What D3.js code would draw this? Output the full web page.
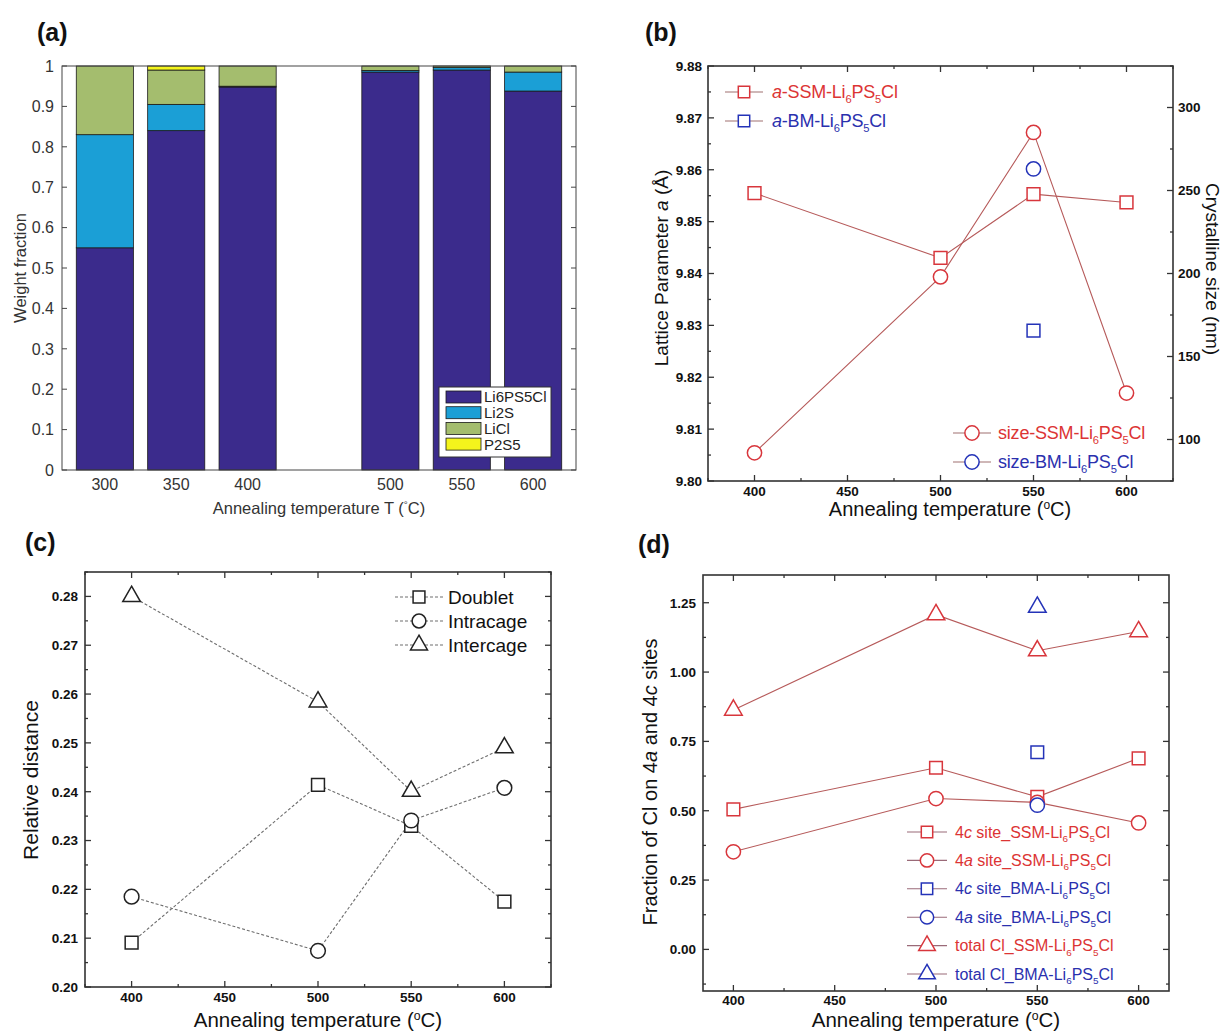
<!DOCTYPE html>
<html>
<head>
<meta charset="utf-8" />
<title>Li6PS5Cl annealing</title>
<script src="https://d3js.org/d3.v7.min.js"></script>
<style>
  body { margin: 0; background: #fff; }
  text { font-family: "Liberation Sans", Arial, sans-serif; }
</style>
</head>
<body>
<svg id="fig" width="1228" height="1032"></svg>
<script>
// ---------- (a) weight fractions ----------
var tempsA = [300, 350, 400, 500, 550, 600];
var phaseNames = ["Li6PS5Cl", "Li2S", "LiCl", "P2S5"];
var fracLi6PS5Cl = [0.55, 0.84, 0.948, 0.985, 0.99, 0.938];
var fracLi2S = [0.28, 0.065, 0.002, 0.004, 0.006, 0.047];
var fracLiCl = [0.17, 0.085, 0.05, 0.011, 0.004, 0.015];
var fracP2S5 = [0, 0.01, 0, 0, 0, 0];
var phaseColors = ["#3b2b8c", "#1b9fd6", "#a4bd6e", "#f4f41c"];

// ---------- (b) lattice parameter & crystallite size ----------
var tempsB = [400, 500, 550, 600];
var latticeSSM = [9.8555, 9.8430, 9.8553, 9.8537];
var tempsBM = [550];
var latticeBM = [9.8290];
var sizeSSM = [92, 198, 285, 128];
var sizeBM = [263];

// ---------- (c) relative distances ----------
var tempsC = [400, 500, 550, 600];
var doublet = [0.2091, 0.2414, 0.2330, 0.2175];
var intracage = [0.2185, 0.2074, 0.2341, 0.2408];
var intercage = [0.2800, 0.2584, 0.2401, 0.2490];

// ---------- (d) Cl site fractions ----------
var tempsD = [400, 500, 550, 600];
var site4cSSM = [0.505, 0.655, 0.550, 0.689];
var site4aSSM = [0.352, 0.544, 0.530, 0.456];
var totalSSM = [0.863, 1.207, 1.077, 1.146];
var tempsBMA = [550];
var site4cBMA = [0.711];
var site4aBMA = [0.520];
var totalBMA = [1.234];

var RED = "#d8363c", REDLINE = "#b65a5a", REDTXT = "#dc3434";
var BLUE = "#2433b8", BLUETXT = "#2a30ae";

var svg = d3.select("#fig");

function range(a, b, s) {
  var out = [];
  for (var v = a; v <= b + s / 1000; v += s) out.push(+v.toFixed(6));
  return out;
}

function richText(sel, parts, size) {
  parts.forEach(function (p) {
    var t = sel.append("tspan").text(p[0]);
    if (p[1] === "i") t.attr("font-style", "italic");
    if (p[1] === "sub") t.attr("font-size", size * 0.62).attr("dy", size * 0.28);
    if (p[1] === "sup") t.attr("font-size", size * 0.6).attr("dy", -size * 0.36);
    if (p[1] === "back") t.attr("dy", -size * 0.28);
    if (p[1] === "down") t.attr("dy", size * 0.36);
  });
  return sel;
}

function subParts(prefix) {
  return prefix.concat([["Li", null], ["6", "sub"], ["PS", "back"], ["5", "sub"], ["Cl", "back"]]);
}

// frame with inward ticks on four sides
function frame(g, x, y, o) {
  var x0 = x.range()[0], x1 = x.range()[1], y0 = y.range()[0], y1 = y.range()[1];
  var st = o.stroke || "#333";
  function tk(ax, ay, bx, by) {
    g.append("line").attr("x1", ax).attr("y1", ay).attr("x2", bx).attr("y2", by)
      .attr("stroke", st).attr("stroke-width", o.tw || 1.3);
  }
  (o.xMajor || []).forEach(function (v) { tk(x(v), y0, x(v), y0 - 6); tk(x(v), y1, x(v), y1 + 6); });
  (o.xMinor || []).forEach(function (v) { tk(x(v), y0, x(v), y0 - 3); tk(x(v), y1, x(v), y1 + 3); });
  o.yMajor.forEach(function (v) { tk(x0, y(v), x0 + 6, y(v)); if (!o.y2) tk(x1, y(v), x1 - 6, y(v)); });
  (o.yMinor || []).forEach(function (v) { tk(x0, y(v), x0 + 3, y(v)); if (!o.y2) tk(x1, y(v), x1 - 3, y(v)); });
  if (o.y2) {
    o.y2Major.forEach(function (v) { tk(x1, o.y2(v), x1 - 6, o.y2(v)); });
    o.y2Minor.forEach(function (v) { tk(x1, o.y2(v), x1 - 3, o.y2(v)); });
  }
  g.append("rect").attr("x", x0).attr("y", y1).attr("width", x1 - x0).attr("height", y0 - y1)
    .attr("fill", "none").attr("stroke", st).attr("stroke-width", o.sw || 1.6);
}

function tickLabels(g, x, y, o) {
  var x0 = x.range()[0], y0 = y.range()[0];
  g.selectAll(null).data(o.xLab).enter().append("text")
    .attr("x", function (d) { return x(d); }).attr("y", y0 + o.xOff)
    .attr("text-anchor", "middle").attr("font-size", o.fs).attr("font-weight", o.fw || "bold")
    .attr("fill", o.fill || "#111").text(o.xFmt || String);
  g.selectAll(null).data(o.yLab).enter().append("text")
    .attr("x", x0 - o.yOff).attr("y", function (d) { return y(d); }).attr("dy", "0.36em")
    .attr("text-anchor", "end").attr("font-size", o.fs).attr("font-weight", o.fw || "bold")
    .attr("fill", o.fill || "#111").text(o.yFmt);
}

function markers(g, x, y, xs, ys, shape, color, size) {
  g.selectAll(null).data(xs).enter().append("path")
    .attr("transform", function (d, i) { return "translate(" + x(d) + "," + y(ys[i]) + ")"; })
    .attr("d", d3.symbol().type(shape).size(size))
    .attr("fill", "white").attr("stroke", color).attr("stroke-width", 1.5);
}

function series(g, x, y, xs, ys, color, dash) {
  var line = d3.line().x(function (d) { return x(d[0]); }).y(function (d) { return y(d[1]); });
  g.append("path").datum(xs.map(function (t, i) { return [t, ys[i]]; }))
    .attr("d", line).attr("fill", "none").attr("stroke", color).attr("stroke-width", 1.1)
    .attr("stroke-dasharray", dash || null);
}

function legendRow(g, cx, cy, half, shape, color, lineColor, size, dash) {
  g.append("line").attr("x1", cx - half).attr("x2", cx + half).attr("y1", cy).attr("y2", cy)
    .attr("stroke", lineColor).attr("stroke-width", 1.1).attr("stroke-dasharray", dash || null);
  g.append("path").attr("transform", "translate(" + cx + "," + cy + ")")
    .attr("d", d3.symbol().type(shape).size(size))
    .attr("fill", "white").attr("stroke", color).attr("stroke-width", 1.5);
}

function degLabel(g, x, y, size, pre) {
  var t = g.append("text").attr("x", x).attr("y", y).attr("text-anchor", "middle")
    .attr("font-size", size).attr("fill", "#111");
  richText(t, [[pre + "(", null], ["o", "sup"], ["C)", "down"]], size);
  return t;
}

function panelTitle(x, y, s) {
  svg.append("text").attr("x", x).attr("y", y).attr("font-size", 25).attr("font-weight", "bold")
    .attr("fill", "#111").text(s);
}

// =============== PANEL (a) ===============
(function () {
  var g = svg.append("g");
  var x = d3.scaleLinear().domain([270, 630]).range([62, 576]);
  var y = d3.scaleLinear().domain([0, 1]).range([470, 66]);
  var rows = tempsA.map(function (t, i) {
    return { T: t, Li6PS5Cl: fracLi6PS5Cl[i], Li2S: fracLi2S[i], LiCl: fracLiCl[i], P2S5: fracP2S5[i] };
  });
  var stacked = d3.stack().keys(phaseNames)(rows);
  var bw = x(320) - x(280);
  g.selectAll("g.layer").data(stacked).enter().append("g")
    .attr("fill", function (d, i) { return phaseColors[i]; })
    .selectAll("rect").data(function (d) { return d; }).enter().append("rect")
    .attr("x", function (d) { return x(d.data.T) - bw / 2; }).attr("width", bw)
    .attr("y", function (d) { return y(d[1]); })
    .attr("height", function (d) { return Math.max(0, y(d[0]) - y(d[1])); })
    .attr("stroke", "#1a1a1a").attr("stroke-width", 0.8);

  var yt = range(0, 1, 0.1);
  yt.forEach(function (v) {
    g.append("line").attr("x1", 62).attr("x2", 67).attr("y1", y(v)).attr("y2", y(v)).attr("stroke", "#444");
    g.append("line").attr("x1", 576).attr("x2", 571).attr("y1", y(v)).attr("y2", y(v)).attr("stroke", "#444");
  });
  g.append("rect").attr("x", 62).attr("y", 66).attr("width", 514).attr("height", 404)
    .attr("fill", "none").attr("stroke", "#444").attr("stroke-width", 1);
  tickLabels(g, x, y, {
    xLab: tempsA, yLab: yt, xOff: 20, yOff: 8, fs: 16, fw: "normal", fill: "#333",
    yFmt: function (d) { return d === 0 ? "0" : d === 1 ? "1" : d3.format(".1f")(d); }
  });
  g.append("text").attr("transform", "translate(26,268) rotate(-90)").attr("text-anchor", "middle")
    .attr("font-size", 16.5).attr("fill", "#333").text("Weight fraction");
  var xl = g.append("text").attr("x", 319).attr("y", 514).attr("text-anchor", "middle")
    .attr("font-size", 16.5).attr("fill", "#333");
  richText(xl, [["Annealing temperature T (", null], ["°", "sup"], ["C)", "down"]], 16.5);

  // legend
  var lg = g.append("g");
  lg.append("rect").attr("x", 439).attr("y", 387).attr("width", 112).attr("height", 70)
    .attr("fill", "white").attr("stroke", "#333").attr("stroke-width", 1);
  phaseNames.forEach(function (n, i) {
    var cy = 397 + i * 15.7;
    lg.append("rect").attr("x", 446).attr("y", cy - 6).attr("width", 35).attr("height", 12)
      .attr("fill", phaseColors[i]).attr("stroke", "#1a1a1a").attr("stroke-width", 0.8);
    lg.append("text").attr("x", 484).attr("y", cy).attr("dy", "0.36em").attr("font-size", 15)
      .attr("fill", "#222").text(n);
  });
})();
panelTitle(37, 41, "(a)");

// =============== PANEL (b) ===============
(function () {
  var g = svg.append("g");
  var x = d3.scaleLinear().domain([375, 625]).range([708, 1173]);
  var y = d3.scaleLinear().domain([9.80, 9.88]).range([481, 66]);
  var y2 = d3.scaleLinear().domain([75, 325]).range([481, 66]);

  series(g, x, y, tempsB, latticeSSM, REDLINE);
  series(g, x, y2, tempsB, sizeSSM, REDLINE);
  markers(g, x, y, tempsB, latticeSSM, d3.symbolSquare, RED, 165);
  markers(g, x, y2, tempsB, sizeSSM, d3.symbolCircle, RED, 160);
  markers(g, x, y, tempsBM, latticeBM, d3.symbolSquare, BLUE, 165);
  markers(g, x, y2, tempsBM, sizeBM, d3.symbolCircle, BLUE, 160);

  frame(g, x, y, {
    xMajor: range(400, 600, 50), xMinor: range(375, 625, 50),
    yMajor: range(9.80, 9.88, 0.01), yMinor: range(9.805, 9.875, 0.01),
    y2: y2, y2Major: range(100, 300, 50), y2Minor: range(75, 325, 50)
  });
  tickLabels(g, x, y, {
    xLab: range(400, 600, 50), yLab: range(9.80, 9.88, 0.01), xOff: 15, yOff: 6, fs: 13.5,
    yFmt: d3.format(".2f")
  });
  g.selectAll(null).data(range(100, 300, 50)).enter().append("text")
    .attr("x", 1178).attr("y", function (d) { return y2(d); }).attr("dy", "0.36em")
    .attr("font-size", 13.5).attr("font-weight", "bold").attr("fill", "#111").text(String);

  var yl = g.append("text").attr("transform", "translate(668,268) rotate(-90)")
    .attr("text-anchor", "middle").attr("font-size", 19).attr("fill", "#111");
  richText(yl, [["Lattice Parameter ", null], ["a", "i"], [" (Å)", null]], 19);
  g.append("text").attr("transform", "translate(1206,269) rotate(90)")
    .attr("text-anchor", "middle").attr("font-size", 19).attr("fill", "#111").text("Crystalline size (nm)");
  degLabel(g, 950, 516, 20, "Annealing temperature ");

  // legends
  var legTop = [
    { shape: d3.symbolSquare, color: RED, txt: REDTXT, parts: subParts([["a", "i"], ["-SSM-", null]]) },
    { shape: d3.symbolSquare, color: BLUE, txt: BLUETXT, parts: subParts([["a", "i"], ["-BM-", null]]) }
  ];
  legTop.forEach(function (d, i) {
    var cy = 92 + i * 29;
    legendRow(g, 744, cy, 19, d.shape, d.color, "#a07070", 130);
    richText(g.append("text").attr("x", 772).attr("y", cy + 6).attr("font-size", 18).attr("fill", d.txt)
      .attr("letter-spacing", -0.2), d.parts, 18);
  });
  var legBot = [
    { shape: d3.symbolCircle, color: RED, txt: REDTXT, parts: subParts([["size-SSM-", null]]) },
    { shape: d3.symbolCircle, color: BLUE, txt: BLUETXT, parts: subParts([["size-BM-", null]]) }
  ];
  legBot.forEach(function (d, i) {
    var cy = 433 + i * 29;
    legendRow(g, 972, cy, 19, d.shape, d.color, "#a07070", 160);
    richText(g.append("text").attr("x", 998).attr("y", cy + 6).attr("font-size", 18).attr("fill", d.txt)
      .attr("letter-spacing", -0.2), d.parts, 18);
  });
})();
panelTitle(645, 41, "(b)");

// =============== PANEL (c) ===============
(function () {
  var g = svg.append("g");
  var x = d3.scaleLinear().domain([375, 625]).range([85, 551]);
  var y = d3.scaleLinear().domain([0.20, 0.285]).range([987, 572]);
  var GRAY = "#6e6e6e", DASH = "3,2";

  series(g, x, y, tempsC, doublet, GRAY, DASH);
  series(g, x, y, tempsC, intracage, GRAY, DASH);
  series(g, x, y, tempsC, intercage, GRAY, DASH);
  markers(g, x, y, tempsC, doublet, d3.symbolSquare, "#222", 165);
  markers(g, x, y, tempsC, intracage, d3.symbolCircle, "#222", 170);
  markers(g, x, y, tempsC, intercage, d3.symbolTriangle, "#222", 135);

  frame(g, x, y, {
    xMajor: range(400, 600, 50), xMinor: range(375, 625, 50),
    yMajor: range(0.20, 0.28, 0.01), yMinor: range(0.205, 0.285, 0.01)
  });
  tickLabels(g, x, y, {
    xLab: range(400, 600, 50), yLab: range(0.20, 0.28, 0.01), xOff: 15, yOff: 7, fs: 13.5,
    yFmt: d3.format(".2f")
  });
  g.append("text").attr("transform", "translate(38,780) rotate(-90)").attr("text-anchor", "middle")
    .attr("font-size", 21).attr("fill", "#111").text("Relative distance");
  degLabel(g, 318, 1027, 20.5, "Annealing temperature ");

  var leg = [
    { shape: d3.symbolSquare, size: 140, name: "Doublet" },
    { shape: d3.symbolCircle, size: 150, name: "Intracage" },
    { shape: d3.symbolTriangle, size: 125, name: "Intercage" }
  ];
  leg.forEach(function (d, i) {
    var cy = 597 + i * 24;
    legendRow(g, 419, cy, 24, d.shape, "#222", GRAY, d.size, DASH);
    g.append("text").attr("x", 448).attr("y", cy + 7).attr("font-size", 19).attr("fill", "#111").text(d.name);
  });
})();
panelTitle(25, 551, "(c)");

// =============== PANEL (d) ===============
(function () {
  var g = svg.append("g");
  var x = d3.scaleLinear().domain([385, 615]).range([703, 1169]);
  var y = d3.scaleLinear().domain([-0.15, 1.35]).range([991, 575]);

  series(g, x, y, tempsD, totalSSM, REDLINE);
  series(g, x, y, tempsD, site4cSSM, REDLINE);
  series(g, x, y, tempsD, site4aSSM, REDLINE);
  markers(g, x, y, tempsD, totalSSM, d3.symbolTriangle, RED, 135);
  markers(g, x, y, tempsD, site4cSSM, d3.symbolSquare, RED, 160);
  markers(g, x, y, tempsD, site4aSSM, d3.symbolCircle, RED, 160);
  markers(g, x, y, tempsBMA, totalBMA, d3.symbolTriangle, BLUE, 135);
  markers(g, x, y, tempsBMA, site4cBMA, d3.symbolSquare, BLUE, 160);
  markers(g, x, y, tempsBMA, site4aBMA, d3.symbolCircle, BLUE, 160);

  frame(g, x, y, {
    xMajor: range(400, 600, 50), xMinor: range(425, 575, 50),
    yMajor: range(0, 1.25, 0.25), yMinor: range(-0.125, 1.125, 0.25)
  });
  tickLabels(g, x, y, {
    xLab: range(400, 600, 50), yLab: range(0, 1.25, 0.25), xOff: 14, yOff: 7, fs: 13.5,
    yFmt: d3.format(".2f")
  });
  var yl = g.append("text").attr("transform", "translate(657,782) rotate(-90)").attr("text-anchor", "middle")
    .attr("font-size", 20).attr("fill", "#111");
  richText(yl, [["Fraction of Cl on 4", null], ["a", "i"], [" and 4", null], ["c", "i"], [" sites", null]], 20);
  degLabel(g, 936, 1027, 20.5, "Annealing temperature ");

  var leg = [
    { shape: d3.symbolSquare, size: 130, c: RED, t: REDTXT, parts: subParts([["4", null], ["c", "i"], [" site_SSM-", null]]) },
    { shape: d3.symbolCircle, size: 140, c: RED, t: REDTXT, parts: subParts([["4", null], ["a", "i"], [" site_SSM-", null]]) },
    { shape: d3.symbolSquare, size: 130, c: BLUE, t: BLUETXT, parts: subParts([["4", null], ["c", "i"], [" site_BMA-", null]]) },
    { shape: d3.symbolCircle, size: 140, c: BLUE, t: BLUETXT, parts: subParts([["4", null], ["a", "i"], [" site_BMA-", null]]) },
    { shape: d3.symbolTriangle, size: 120, c: RED, t: REDTXT, parts: subParts([["total Cl_SSM-", null]]) },
    { shape: d3.symbolTriangle, size: 120, c: BLUE, t: BLUETXT, parts: subParts([["total Cl_BMA-", null]]) }
  ];
  leg.forEach(function (d, i) {
    var cy = 832 + i * 28.4;
    legendRow(g, 927, cy, 20, d.shape, d.c, "#9a6a78", d.size);
    richText(g.append("text").attr("x", 955).attr("y", cy + 5.5).attr("font-size", 16).attr("fill", d.t), d.parts, 16);
  });
})();
panelTitle(638, 553, "(d)");
</script>
</body>
</html>
